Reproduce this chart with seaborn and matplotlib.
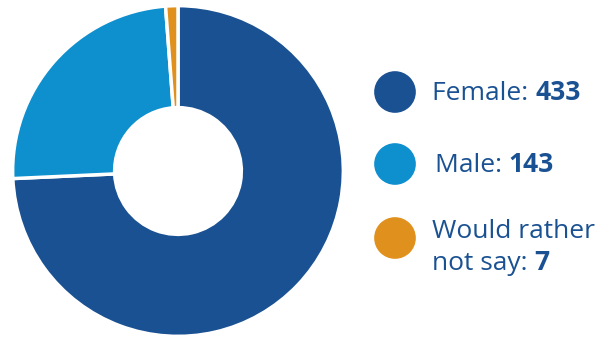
import matplotlib
matplotlib.use("Agg")
import matplotlib.pyplot as plt
import seaborn as sns

categories = ["Female", "Male", "Would rather not say"]
values = [433, 143, 7]
label_lines = [["Female: "], ["Male: "], ["Would rather", "not say: "]]
colors = ["#1a5192", "#0e8fce", "#e0901c"]
text_color = "#1a5192"

sns.set_theme(style="white")
plt.rcParams["font.family"] = ["Open Sans", "DejaVu Sans"]

fig = plt.figure(figsize=(6.10, 3.38), dpi=100)
W, H = 610, 338
cx, cy, r = 178, 171, 167
ax = fig.add_axes([(cx - r) / W, (H - cy - r) / H, 2 * r / W, 2 * r / H])
ax.pie(values, colors=sns.color_palette(colors), startangle=90, counterclock=False,
       radius=1, wedgeprops=dict(width=1 - 64 / 167, edgecolor="white", linewidth=2.5))
ax.set_xlim(-1.01, 1.01)
ax.set_ylim(-1.01, 1.01)
ax.set_aspect("equal")
ax.axis("off")

lax = fig.add_axes([0, 0, 1, 1])
lax.set_xlim(0, W)
lax.set_ylim(H, 0)
lax.axis("off")
marker_y = [92, 164, 238]
line_y = [[93], [165], [231, 264]]
text_x = [432, 435, 432]
fs = 19
for i, (cat, v) in enumerate(zip(categories, values)):
    lax.scatter([395], [marker_y[i]], s=900, color=colors[i], edgecolor="none")
    lines = label_lines[i]
    for j, ln in enumerate(lines):
        t = lax.text(text_x[i], line_y[i][j], ln, fontsize=fs, color=text_color,
                     va="center", ha="left")
    lax.annotate(str(v), xy=(1, 0), xycoords=t, xytext=(0, 0), textcoords="offset points",
                 fontsize=fs, fontweight="bold", color=text_color, va="bottom", ha="left")

fig.savefig("out.png", dpi=100)
